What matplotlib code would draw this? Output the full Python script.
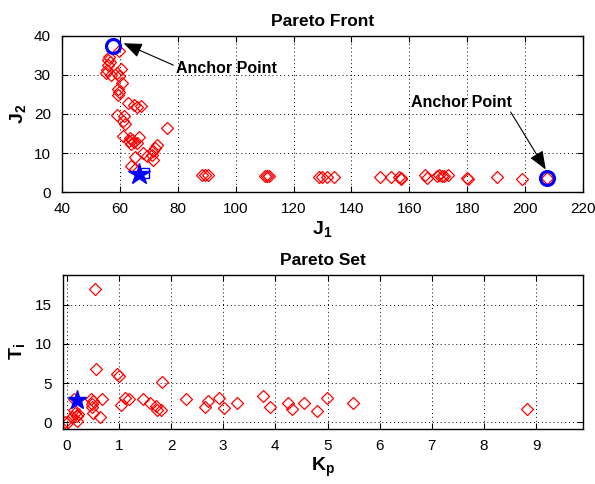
import matplotlib
matplotlib.use("Agg")
import matplotlib.pyplot as plt

plt.rcParams['font.family'] = ['Liberation Sans', 'DejaVu Sans']
plt.rcParams['mathtext.fontset'] = 'custom'
plt.rcParams['mathtext.rm'] = 'Liberation Sans'
plt.rcParams['mathtext.bf'] = 'Liberation Sans:bold'

# Pareto front (objective space)
j1_front = [59.6, 56.4, 56.0, 56.6, 56.0, 55.5, 55.2, 56.9, 58.9, 60.3, 59.8, 60.6, 59.3, 59.7,
            59.5, 62.9, 64.9, 67.2, 65.8, 59.1, 61.5, 61.2, 61.8, 76.2, 61.2, 63.5, 64.1, 63.2,
            64.8, 63.8, 66.7, 65.8, 73.0, 72.2, 71.6, 71.0, 68.1, 69.5, 71.6, 65.3, 63.8, 65.3,
            88.3, 89.5, 90.3, 110.2, 111.0, 111.7, 128.7, 129.8, 131.6, 133.9, 149.7, 153.7,
            156.4, 157.0, 157.2, 165.4, 166.2, 169.4, 170.2, 171.1, 171.9, 173.5, 179.8, 180.2,
            190.2, 199.0, 207.7]
j2_front = [36.0, 34.5, 33.8, 33.4, 32.5, 31.2, 30.4, 30.0, 30.6, 31.5, 29.8, 27.8, 26.5, 25.6,
            24.9, 22.9, 22.3, 22.0, 21.7, 19.7, 19.4, 18.3, 17.4, 16.5, 14.4, 13.9, 13.3, 13.0,
            12.8, 12.3, 14.2, 12.5, 12.0, 11.3, 10.5, 9.6, 10.0, 9.2, 8.1, 9.0, 6.6, 5.9,
            4.4, 4.5, 4.4, 4.2, 4.2, 4.2, 4.0, 4.0, 4.0, 3.9, 3.8, 3.8,
            3.8, 3.6, 3.4, 4.4, 3.6, 4.2, 4.3, 4.2, 4.2, 4.3, 3.6, 3.3,
            4.0, 3.4, 3.6]
anchor_j1 = [57.8, 207.7]
anchor_j2 = [37.5, 3.6]
best_j1, best_j2 = 66.7, 4.7
square_j1, square_j2 = 68.5, 4.9

# Pareto set (parameter space)
kp_set = [0.54, 0.57, 0.97, 1.0, 1.82, 0.13, 0.47, 0.51, 0.48, 0.67, 0.48, 0.51, 0.64, 0.03,
          0.1, 0.16, 0.19, 0.22, 0.19, 0.13, 1.05, 1.12, 1.2, 1.46, 1.6, 1.71, 1.74, 1.8,
          2.29, 2.65, 2.71, 2.92, 3.01, 3.27, 3.77, 3.89, 4.25, 4.32, 4.55, 4.79, 4.99, 5.49,
          8.82, -0.03]
ti_set = [17.0, 6.8, 6.1, 5.9, 5.1, 2.9, 2.9, 2.7, 2.3, 2.9, 2.0, 1.2, 0.6, 0.0,
          0.6, 1.2, 0.8, 1.1, 0.1, 1.6, 2.25, 3.1, 2.9, 3.0, 2.4, 2.1, 1.6, 1.6,
          3.0, 2.0, 2.7, 3.1, 1.8, 2.5, 3.4, 2.0, 2.5, 1.7, 2.4, 1.4, 3.1, 2.5,
          1.7, 0.0]
best_kp, best_ti = 0.19, 2.8

fig = plt.figure(figsize=(5.95, 4.84), dpi=100)
ax1 = fig.add_axes([0.104, 0.603, 0.876, 0.323])
ax2 = fig.add_axes([0.106, 0.114, 0.874, 0.318])


def style_axes(ax):
    ax.grid(True, linestyle=(0, (1, 3)), color='k', linewidth=0.7)
    ax.tick_params(direction='in', top=True, right=True, length=4, labelsize=11, width=0.8)
    ax.tick_params(axis='x', pad=7)
    ax.tick_params(axis='y', pad=8)
    for sp in ax.spines.values():
        sp.set_linewidth(1.0)


ax1.plot(j1_front, j2_front, 'D', mfc='none', mec='red', ms=6, mew=0.9)
ax1.plot(anchor_j1, anchor_j2, 'o', mfc='none', mec='blue', ms=10, mew=2.3)
ax1.plot(best_j1, best_j2, '*', color='blue', ms=16)
ax1.plot(square_j1, square_j2, 's', mfc='none', mec='blue', ms=7, mew=1)
ax1.set_xlim(40, 220)
ax1.set_ylim(0, 40)
ax1.set_xticks(range(40, 221, 20))
ax1.set_yticks(range(0, 41, 10))
style_axes(ax1)
ax1.set_title('Pareto Front', fontsize=12.5, fontweight='bold', pad=7)
ax1.set_xlabel(r'$\mathbf{J_1}$', fontsize=14, labelpad=2)
ax1.set_ylabel(r'$\mathbf{J_2}$', fontsize=14, labelpad=4)

arrow = dict(arrowstyle='-|>,head_length=0.75,head_width=0.3', color='k', lw=0.8,
             shrinkA=0, shrinkB=0, mutation_scale=15)
ax1.annotate('', xy=(61.3, 38.1), xytext=(78.5, 32.5), arrowprops=arrow)
ax1.text(79.3, 31.7, 'Anchor Point', fontsize=11.5, fontweight='bold', va='center', ha='left')
ax1.annotate('', xy=(207.1, 5.8), xytext=(195.0, 20.5), arrowprops=arrow)
ax1.text(160.4, 22.9, 'Anchor Point', fontsize=11.5, fontweight='bold', va='center', ha='left')

ax2.plot(kp_set, ti_set, 'D', mfc='none', mec='red', ms=6, mew=0.9)
ax2.plot(best_kp, best_ti, '*', color='blue', ms=14)
ax2.set_xlim(-0.07, 9.9)
ax2.set_ylim(-0.85, 18.8)
ax2.set_xticks(range(0, 10))
ax2.set_yticks([0, 5, 10, 15])
style_axes(ax2)
ax2.set_title('Pareto Set', fontsize=12.5, fontweight='bold', pad=7)
ax2.set_xlabel(r'$\mathbf{K_p}$', fontsize=14, labelpad=2)
ax2.set_ylabel(r'$\mathbf{T_i}$', fontsize=14, labelpad=6)

fig.savefig('out.png', dpi=100)
